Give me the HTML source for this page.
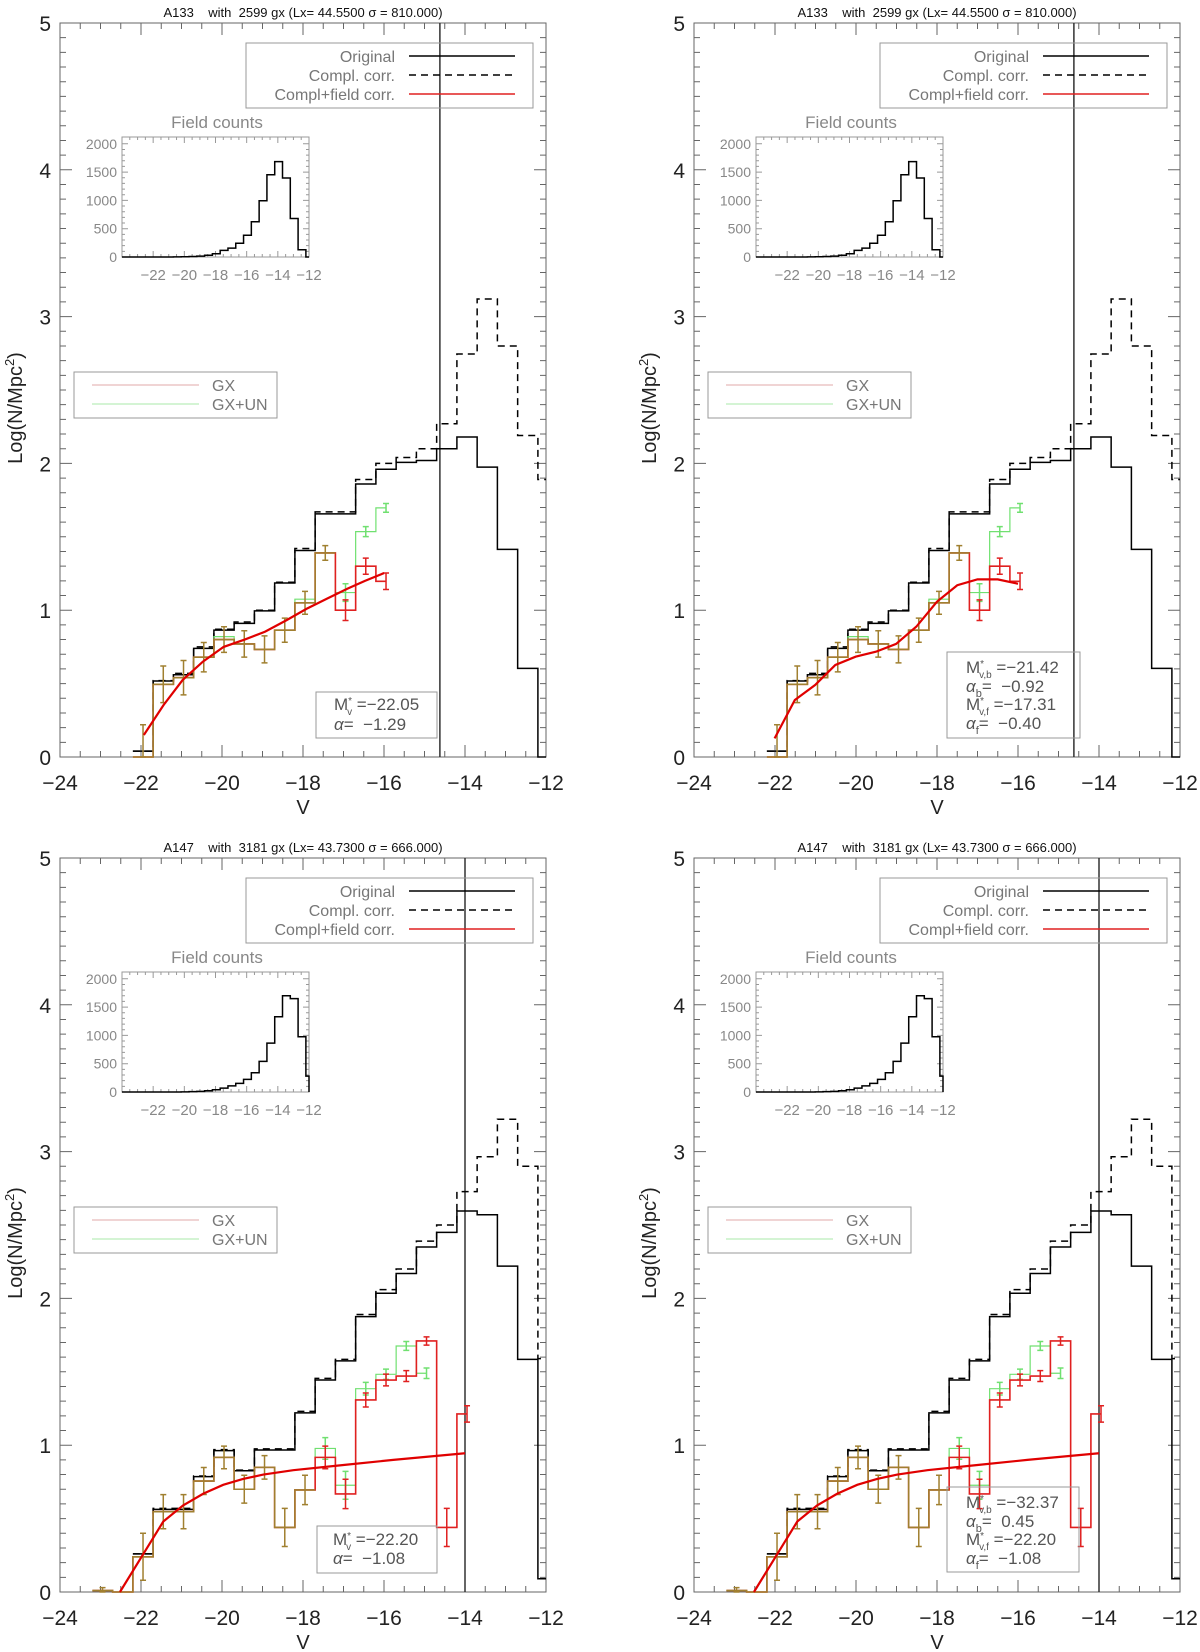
<!DOCTYPE html>
<html><head><meta charset="utf-8">
<style>
html,body{margin:0;padding:0;background:#fff;}
svg{display:block;font-family:"Liberation Sans",sans-serif;}
text{white-space:pre;}
</style></head>
<body>
<svg id="fig" xmlns="http://www.w3.org/2000/svg" width="1200" height="1652" viewBox="0 0 1200 1652"></svg>
<script>
// ---------- data ----------
const binCenterStart = -21.95;
// top clusters (A133)
const topBlack  = [0.04,0.518,0.56,0.74,0.864,0.91,0.995,1.185,1.407,1.656,1.656,1.86,1.96,2.007,2.02,2.10,2.18,1.975,1.414,0.604,0];
const topDashed = [0.04,0.52,0.57,0.75,0.87,0.92,1.0,1.19,1.42,1.67,1.67,1.89,2.0,2.04,2.1,2.27,2.745,3.12,2.80,2.19,1.89];
const topRedStart = -21.95;
const topRed     = [0,0.495,0.54,0.68,0.80,0.77,0.733,0.864,1.05,1.39,1.00,1.30,1.197];
const topRedErr  = [0.22,0.125,0.117,0.10,0.087,0.09,0.092,0.082,0.078,0.05,0.07,0.055,0.056];
const topGreen   = [0,0.495,0.54,0.68,0.82,0.77,0.733,0.864,1.075,1.39,1.12,1.535,1.697];
const topGreenErr= [0.22,0.125,0.117,0.10,0.087,0.09,0.092,0.082,0.078,0.05,0.06,0.034,0.03];
const topVline = -14.62;
const fit1X = [-21.93,-21.44,-20.97,-20.47,-19.96,-19.44,-18.94,-18.42,-17.91,-17.4,-16.9,-16.47,-16.0];
const fit1Y = [0.15,0.355,0.525,0.65,0.75,0.80,0.853,0.93,1.01,1.08,1.147,1.2,1.253];
const fit2X = [-22.01,-21.51,-21.01,-20.51,-20.01,-19.51,-19.01,-18.51,-18.0,-17.5,-17.0,-16.5,-16.0];
const fit2Y = [0.127,0.388,0.49,0.627,0.683,0.717,0.77,0.888,1.058,1.17,1.21,1.21,1.18];
const topInsetStart = -23.95;
const topInset = [0,0,0,0,0,0,1,2,4,8,15,30,58,116,157,244,384,622,994,1453,1686,1395,680,128,0];
// bottom clusters (A147)
const botBlack  = [0.26,0.563,0.563,0.786,0.963,0.826,0.967,0.967,1.22,1.444,1.574,1.876,2.035,2.17,2.35,2.45,2.595,2.57,2.22,1.585,0.09];
const botDashed = [0.26,0.57,0.57,0.79,0.97,0.83,0.975,0.975,1.23,1.455,1.585,1.89,2.06,2.2,2.39,2.5,2.727,2.965,3.22,2.9,1.59];
const botRedStart = -22.95;
const botRed     = [0.01,0,0.24,0.547,0.547,0.756,0.917,0.70,0.849,0.44,0.695,0.917,0.668,1.308,1.444,1.471,1.71,0.44,1.213];
const botRedErr  = [0.02,0,0.16,0.116,0.116,0.092,0.077,0.095,0.08,0.13,0.1,0.077,0.1,0.048,0.04,0.037,0.028,0.13,0.056];
const botGreen   = [0.01,0,0.24,0.547,0.547,0.756,0.917,0.70,0.849,0.44,0.695,0.978,0.727,1.385,1.483,1.676,1.49];
const botGreenErr= [0.02,0,0.16,0.116,0.116,0.092,0.077,0.095,0.08,0.13,0.1,0.074,0.095,0.043,0.035,0.03,0.036];
const botVline = -14.0;
const fit3X = [-22.52,-21.94,-21.45,-20.96,-20.46,-19.97,-19.48,-18.98,-18.24,-17.0,-15.77,-14.0];
const fit3Y = [0,0.26,0.48,0.59,0.67,0.73,0.77,0.80,0.83,0.865,0.9,0.945];
const botInsetStart = -23.95;
const botInset = [0,0,0,0,0,0,0,1,3,6,12,22,40,68,108,153,222,340,540,864,1330,1700,1650,977,280];
const xTicks = [-24,-22,-20,-18,-16,-14,-12];
const yTicks = [0,1,2,3,4,5];
const insetYTicks = [0,500,1000,1500,2000];
const insetXTicks = [-22,-20,-18,-16,-14,-12];

// ---------- drawing ----------
const NS = "http://www.w3.org/2000/svg";
const svg = document.getElementById('fig');
const W = 486, H = 734;
function mk(tag, attrs, parent, txt){
  const e = document.createElementNS(NS, tag);
  for (const k in attrs) e.setAttribute(k, attrs[k]);
  if (txt !== undefined) e.textContent = txt;
  (parent||svg).appendChild(e);
  return e;
}
function panel(p){
  const g = mk('g', {});
  
  
  const ox = p.ox, oy = p.oy;
  const xs = v => ox + (v + 24) / 12 * W;
  const ys = v => oy + H - v / 5 * H;
  const t = mk('text', {x: ox + W/2, y: oy - 6, 'font-size': 13, 'text-anchor': 'middle', fill: '#111'}, g, p.title);
  
  
  const fr = mk('rect', {x: ox, y: oy, width: W, height: H, fill: 'none', stroke: '#666', 'stroke-width': 1}, g);
  
  
  let d = '';
  for (let v = -24; v <= -12.001; v += 0.5) {
    const x = xs(v); const major = Math.abs(v % 2) < 0.01;
    const L = major ? 12 : 6;
    d += `M${x},${oy+H}v${-L}M${x},${oy}v${L}`;
  }
  for (let i = 0; i <= 50; i++) {
    const y = ys(i/10); const L = (i % 10 === 0) ? 12 : 6;
    d += `M${ox},${y}h${L}M${ox+W},${y}h${-L}`;
  }
  const tk = mk('path', {d: d, stroke: '#666', 'stroke-width': 1, fill: 'none'}, g);
  
  
  xTicks.forEach(v => {
    const e = mk('text', {x: xs(v), y: oy + H + 33, 'font-size': 21, 'text-anchor': 'middle', fill: '#222'}, g, (v < 0 ? '\u2212' : '') + Math.abs(v));
    
    
  });
  yTicks.forEach(v => {
    const e = mk('text', {x: ox - 9, y: ys(v) + 8, 'font-size': 21, 'text-anchor': 'end', fill: '#222'}, g, String(v));
    
    
  });
  const xt = mk('text', {x: ox + W/2, y: oy + H + 57, 'font-size': 20, 'text-anchor': 'middle', fill: '#222'}, g, 'V');
  
  
  const yt = mk('text', {x: 0, y: 0, 'font-size': 20, 'text-anchor': 'middle', fill: '#222', transform: `translate(${ox-38},${oy+385}) rotate(-90)`}, g);
  
  
  mk('tspan', {}, yt, 'Log(N/Mpc');
  mk('tspan', {dy: -8, 'font-size': 13}, yt, '2');
  mk('tspan', {dy: 8}, yt, ')');

  function stepPath(vals, start, lastHalf){
    let s = '';
    for (let i = 0; i < vals.length; i++) {
      const c = start + i * 0.5;
      let x0 = Math.max(-24, c - 0.25), x1 = c + 0.25;
      if (lastHalf && i === vals.length - 1) x1 = c;
      x1 = Math.min(x1, -12);
      if (i === 0) s += `M${xs(x0)},${ys(vals[0])}`;
      else s += `V${ys(vals[i])}`;
      s += `H${xs(x1)}`;
    }
    return s;
  }
  function errBars(vals, errs, start, col, parent, from, to){
    let s = '';
    for (let i = from; i < to; i++) {
      if (!errs[i]) continue;
      const x = xs(start + i*0.5);
      const lo = ys(Math.max(0, vals[i] - errs[i])), hi = ys(vals[i] + errs[i]);
      s += `M${x},${lo}V${hi}M${x-3},${lo}h6M${x-3},${hi}h6`;
    }
    return mk('path', {d: s, stroke: col, 'stroke-width': 1.5, fill: 'none'}, parent);
  }
  const vl = mk('line', {x1: xs(p.vline), x2: xs(p.vline), y1: oy, y2: oy + H, stroke: '#333', 'stroke-width': 1.5}, g);
  
  
  const dp = mk('path', {d: stepPath(p.dashed, binCenterStart, false), stroke: '#000', 'stroke-width': 1.5, fill: 'none', 'stroke-dasharray': '7,5'}, g);
  
  
  const bp = mk('path', {d: stepPath(p.black, binCenterStart, false), stroke: '#000', 'stroke-width': 1.5, fill: 'none'}, g);
  
  
  const gp = mk('path', {d: stepPath(p.green, p.redStart, true), stroke: '#70e070', 'stroke-width': 1.2, fill: 'none'}, g);
  
  
  let common = 0;
  while (common < p.red.length && common < p.green.length && Math.abs(p.red[common] - p.green[common]) < 0.03) common++;
  const ge = errBars(p.green, p.greenErr, p.redStart, '#70e070', g, common, p.green.length);
  
  
  const rp = mk('path', {d: stepPath(p.red, p.redStart, true), stroke: '#e02020', 'stroke-width': 1.6, fill: 'none'}, g);
  
  
  const re = errBars(p.red, p.redErr, p.redStart, '#e02020', g, common, p.red.length);
  
  
  const op = mk('path', {d: stepPath(p.red.slice(0, common), p.redStart, false), stroke: '#a08030', 'stroke-width': 1.6, fill: 'none'}, g);
  
  
  const oe = errBars(p.red, p.redErr, p.redStart, '#a08030', g, 0, common);
  
  
  let fd = '';
  p.fitX.forEach((v, i) => { fd += (i ? 'L' : 'M') + xs(v) + ',' + ys(p.fitY[i]); });
  const fp = mk('path', {d: fd, stroke: '#e00000', 'stroke-width': 2.2, fill: 'none'}, g);
  
  

  const lg = mk('g', {}, g);
  
  
  mk('rect', {x: ox+186, y: oy+20, width: 287, height: 65, fill: 'none', stroke: '#999', 'stroke-width': 1}, lg);
  [['Original', '#000', null], ['Compl. corr.', '#000', '7,5'], ['Compl+field corr.', '#e02020', null]].forEach((e, i) => {
    const yy = oy + 33 + i * 19;
    const tx = mk('text', {x: ox+335, y: yy + 6, 'font-size': 16, 'text-anchor': 'end', fill: '#777'}, lg, e[0]);
    
    
    const a = {x1: ox+349, x2: ox+455, y1: yy, y2: yy, stroke: e[1], 'stroke-width': 1.5};
    if (e[2]) a['stroke-dasharray'] = e[2];
    mk('line', a, lg);
  });
  const lg2 = mk('g', {}, g);
  
  
  mk('rect', {x: ox+14, y: oy+349, width: 203, height: 46, fill: 'none', stroke: '#999', 'stroke-width': 1}, lg2);
  [['GX', '#e0a8a8'], ['GX+UN', '#a8e8a8']].forEach((e, i) => {
    const yy = oy + 362 + i * 19;
    mk('line', {x1: ox+32, x2: ox+139, y1: yy, y2: yy, stroke: e[1], 'stroke-width': 1}, lg2);
    const tx = mk('text', {x: ox+152, y: yy + 6, 'font-size': 16, fill: '#777'}, lg2, e[0]);
    
    
  });
  const bx = mk('g', {}, g);
  
  
  mk('rect', {x: ox + p.box[0], y: oy + p.box[1], width: p.box[2], height: p.box[3], fill: 'none', stroke: '#999', 'stroke-width': 1}, bx);
  p.boxLines.forEach((ln, i) => {
    const tx = mk('text', {x: ox + p.boxX, y: oy + p.boxY[i] + 6, 'font-size': 17, fill: '#555'}, bx);
    
    
    if (ln[0] === 'M') {
      mk('tspan', {}, tx, 'M');
      mk('tspan', {dy: -6, 'font-size': 10}, tx, '*');
      mk('tspan', {dx: -5, dy: 11, 'font-size': 10}, tx, ln[1]);
      mk('tspan', {dy: -5}, tx, ln[2]);
    } else {
      mk('tspan', {'font-style': 'italic'}, tx, '\u03b1');
      if (ln[1]) mk('tspan', {dy: 5, 'font-size': 11}, tx, ln[1]);
      mk('tspan', {dy: ln[1] ? -5 : 0}, tx, ln[2]);
    }
  });
  const ig = mk('g', {}, g);
  
  
  const ix0 = ox + 62, iw = 187, iy1 = oy + 234, ih = 120;
  const ixs = v => ix0 + (v + 24) / 12 * iw;
  const iys = c => iy1 - c / 2120 * ih;
  mk('rect', {x: ix0, y: iy1 - ih, width: iw, height: ih, fill: 'none', stroke: '#999', 'stroke-width': 1}, ig);
  let itd = '';
  for (let v = -24; v <= -12.001; v += 0.5) { const L = Math.abs(v % 2) < 0.01 ? 6 : 3; itd += `M${ixs(v)},${iy1}v${-L}M${ixs(v)},${iy1-ih}v${L}`; }
  for (let c = 0; c <= 2000; c += 100) { const L = c % 500 === 0 ? 6 : 3; itd += `M${ix0},${iys(c)}h${L}M${ix0+iw},${iys(c)}h${-L}`; }
  mk('path', {d: itd, stroke: '#999', 'stroke-width': 1, fill: 'none'}, ig);
  const itt = mk('text', {x: ix0 + 95, y: iy1 - ih - 9, 'font-size': 17, 'text-anchor': 'middle', fill: '#888'}, ig, 'Field counts');
  
  
  insetYTicks.forEach(c => {
    const e = mk('text', {x: ix0 - 5, y: iys(c) + 5, 'font-size': 14, 'text-anchor': 'end', fill: '#888'}, ig, String(c));
    
    
  });
  insetXTicks.forEach(v => {
    const e = mk('text', {x: ixs(v), y: iy1 + 23, 'font-size': 15, 'text-anchor': 'middle', fill: '#888'}, ig, '\u2212' + Math.abs(v));
    
    
  });
  let ihd = '';
  p.inset.forEach((c, i) => {
    const cc = p.insetStart + i * 0.5;
    const x0 = ixs(Math.max(-24, cc - 0.25)), x1 = ixs(Math.min(-12, cc + 0.25));
    ihd += (i ? 'V' : 'M' + x0 + ',') + iys(c) + 'H' + x1;
  });
  ihd += 'V' + iy1;
  const ih2 = mk('path', {d: ihd, stroke: '#000', 'stroke-width': 1.5, fill: 'none'}, ig);
  
  
}

const topTitle = 'A133    with  2599 gx (Lx= 44.5500 \u03c3 = 810.000)';
const botTitle = 'A147    with  3181 gx (Lx= 43.7300 \u03c3 = 666.000)';
const topCommon = {black: topBlack, dashed: topDashed, red: topRed, redErr: topRedErr, green: topGreen, greenErr: topGreenErr, redStart: topRedStart, vline: topVline, inset: topInset, insetStart: topInsetStart, title: topTitle};
const botCommon = {black: botBlack, dashed: botDashed, red: botRed, redErr: botRedErr, green: botGreen, greenErr: botGreenErr, redStart: botRedStart, vline: botVline, inset: botInset, insetStart: botInsetStart, title: botTitle, fitX: fit3X, fitY: fit3Y};
const singleBox1 = [['M', 'v', ' =\u221222.05'], ['a', '', '=  \u22121.29']];
const doubleBox2 = [['M', 'v,b', ' =\u221221.42'], ['a', 'b', '=  \u22120.92'], ['M', 'v,f', ' =\u221217.31'], ['a', 'f', '=  \u22120.40']];
const singleBox3 = [['M', 'v', ' =\u221222.20'], ['a', '', '=  \u22121.08']];
const doubleBox4 = [['M', 'v,b', ' =\u221232.37'], ['a', 'b', '=  0.45'], ['M', 'v,f', ' =\u221222.20'], ['a', 'f', '=  \u22121.08']];

panel(Object.assign({}, topCommon, {name: 'panel-a133-single', ox: 60, oy: 23, fitX: fit1X, fitY: fit1Y, box: [256, 669, 121, 46], boxX: 274, boxY: [681, 701], boxLines: singleBox1}));
panel(Object.assign({}, topCommon, {name: 'panel-a133-double', ox: 694, oy: 23, fitX: fit2X, fitY: fit2Y, box: [253, 629, 133, 86], boxX: 272, boxY: [644, 663, 681, 700], boxLines: doubleBox2}));
panel(Object.assign({}, botCommon, {name: 'panel-a147-single', ox: 60, oy: 858, box: [257, 668, 120, 47], boxX: 273, boxY: [681, 700], boxLines: singleBox3}));
panel(Object.assign({}, botCommon, {name: 'panel-a147-double', ox: 694, oy: 858, box: [253, 629, 132, 85], boxX: 272, boxY: [644, 663, 681, 700], boxLines: doubleBox4}));
</script>
</body></html>
